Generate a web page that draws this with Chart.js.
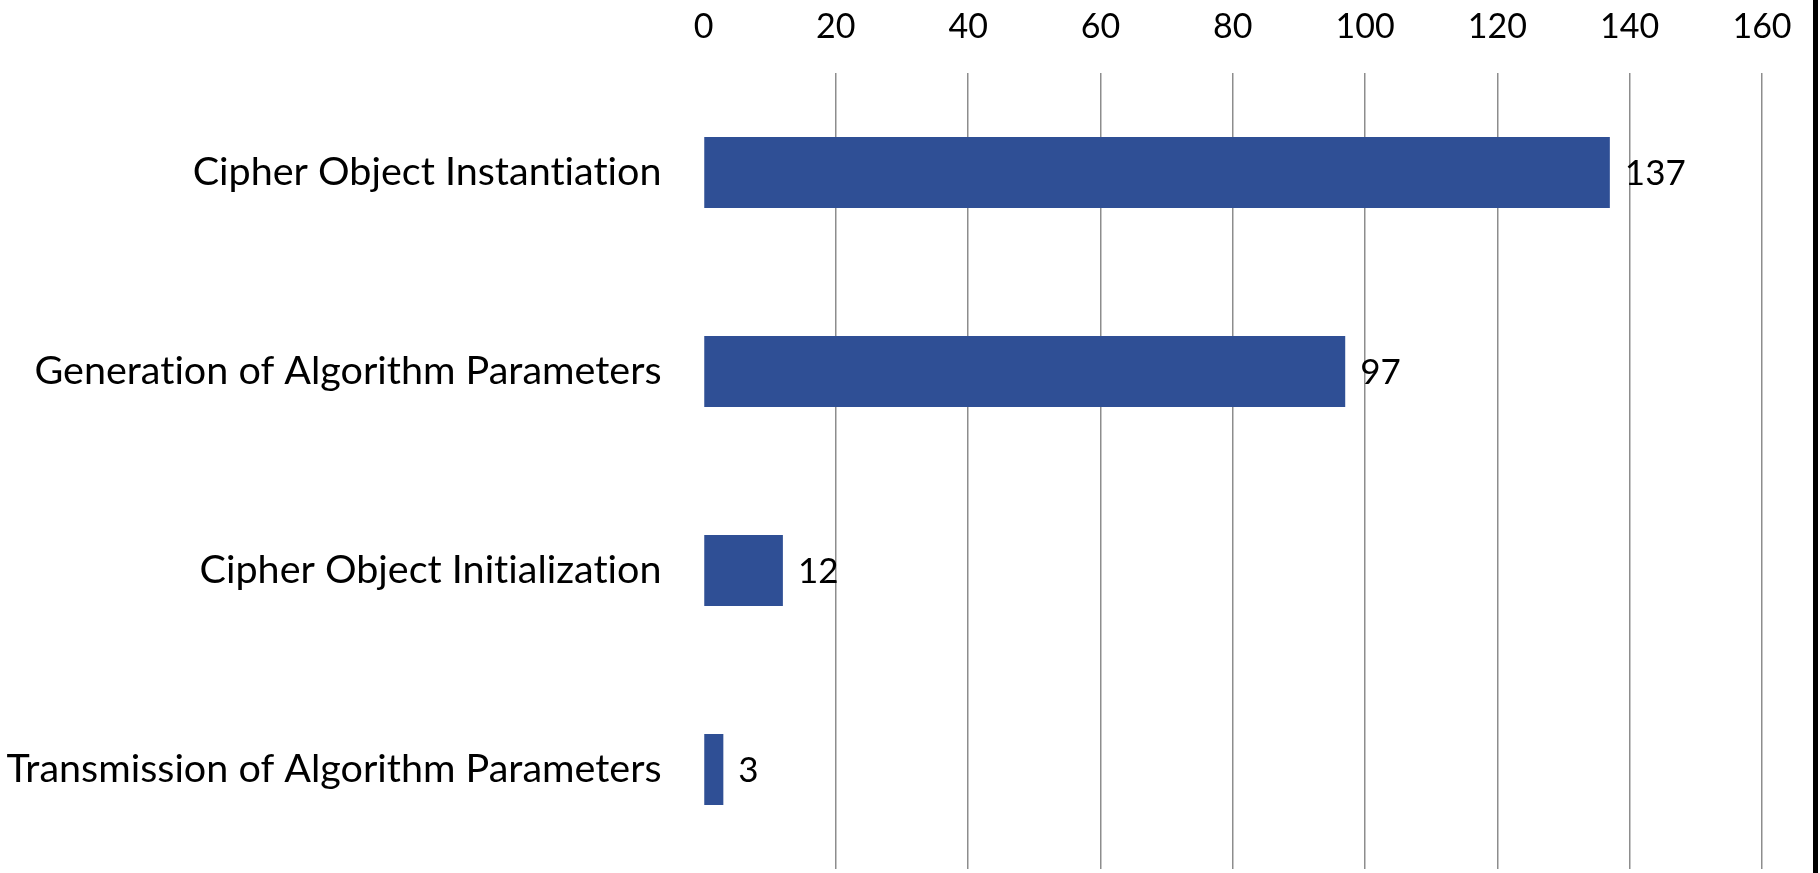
<!DOCTYPE html>
<html>
<head>
<meta charset="utf-8">
<script src="https://cdn.jsdelivr.net/npm/chart.js@4/dist/chart.umd.min.js"></script>
<style>
  html, body { margin: 0; padding: 0; background: #fff; }
  canvas { display: block; }
</style>
</head>
<body>
<canvas id="myChart" width="1820" height="873"></canvas>
<script>
// chart data
var categories = [
  'Cipher Object Instantiation',
  'Generation of Algorithm Parameters',
  'Cipher Object Initialization',
  'Transmission of Algorithm Parameters'
];
var counts = [137, 97, 12, 3];
var tickValues = [0, 20, 40, 60, 80, 100, 120, 140, 160];

var fontFamily = 'Lato, "Open Sans", sans-serif';

// plain glyphs, no "ti" ligatures
var noLigatures = {
  id: 'noLigatures',
  beforeDraw: function(chart) {
    if ('textRendering' in chart.ctx) chart.ctx.textRendering = 'optimizeSpeed';
  }
};

// value labels at the end of each bar
var barLabels = {
  id: 'barLabels',
  afterDatasetsDraw: function(chart) {
    var ctx = chart.ctx;
    var meta = chart.getDatasetMeta(0);
    ctx.save();
    ctx.font = '35px ' + fontFamily;
    ctx.fillStyle = '#000';
    ctx.textAlign = 'left';
    ctx.textBaseline = 'middle';
    meta.data.forEach(function(bar, i) {
      ctx.fillText(String(counts[i]), bar.x + 15, bar.y + 1);
    });
    ctx.restore();
  }
};

// black frame edge on the right side of the picture
var rightEdge = {
  id: 'rightEdge',
  afterDraw: function(chart) {
    var ctx = chart.ctx;
    ctx.save();
    ctx.fillStyle = '#000';
    ctx.fillRect(chart.width - 7, 0, 5, chart.height);
    ctx.restore();
  }
};

var ctx = document.getElementById('myChart').getContext('2d');
var myChart = new Chart(ctx, {
  type: 'bar',
  data: {
    labels: categories,
    datasets: [{
      data: counts,
      backgroundColor: '#2f4f95',
      borderWidth: 0,
      barPercentage: 0.357,
      categoryPercentage: 1
    }]
  },
  plugins: [noLigatures, barLabels, rightEdge],
  options: {
    indexAxis: 'y',
    responsive: false,
    animation: false,
    layout: {
      padding: { left: 0, right: 58, top: 0, bottom: 4 }
    },
    plugins: {
      legend: { display: false },
      tooltip: { enabled: false }
    },
    scales: {
      x: {
        position: 'top',
        min: tickValues[0],
        max: tickValues[tickValues.length - 1],
        afterBuildTicks: function(scale) {
          scale.ticks = tickValues.map(function(v) { return { value: v }; });
        },
        afterFit: function(scale) { scale.height = 73; },
        border: { display: false },
        grid: {
          drawTicks: false,
          lineWidth: 1.5,
          color: function(c) {
            return c.tick && c.tick.value === 0 ? 'rgba(0,0,0,0)' : '#8d8d8d';
          }
        },
        ticks: {
          padding: 26,
          color: '#000',
          maxRotation: 0,
          autoSkip: false,
          font: { family: fontFamily, size: 34 }
        }
      },
      y: {
        afterFit: function(scale) {
          scale.width = 703.5;
          scale.paddingTop = 0;
          scale.paddingBottom = 0;
        },
        border: { display: false },
        grid: { display: false, drawTicks: false },
        ticks: {
          padding: 42,
          color: '#000',
          font: { family: fontFamily, size: 39.5 }
        }
      }
    }
  }
});
</script>
</body>
</html>
